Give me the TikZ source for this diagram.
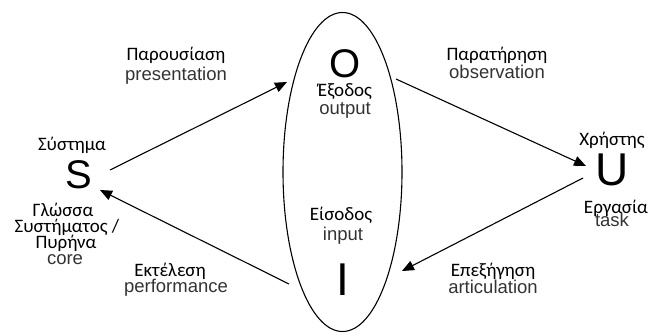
\documentclass[tikz,border=0pt]{standalone}
\usepackage{fontspec}
\setmainfont{Carlito}
\newfontfamily\engfont{Liberation Sans}
\usetikzlibrary{arrows.meta}
\definecolor{enggray}{HTML}{333333}
\tikzset{
  gr/.style={font=\fontsize{19}{19}\selectfont, inner sep=0pt, anchor=base, text=black},
  en/.style={font=\engfont\fontsize{18.5}{18.5}\selectfont, inner sep=0pt, anchor=base, text=enggray},
  big/.style={font=\engfont\fontsize{40}{40}\selectfont, inner sep=0pt, anchor=base},
  bigger/.style={font=\engfont\fontsize{46}{46}\selectfont, inner sep=0pt, anchor=base},
  arr/.style={line width=1.1pt, -{Triangle[length=12pt,width=10pt]}},
}
\begin{document}
\begin{tikzpicture}[x=1pt,y=-1pt]
\useasboundingbox (0,0) rectangle (652,333);
% central ellipse
\draw[line width=1.1pt] (342.5,172) ellipse [x radius=59.5, y radius=159.5];
% big letters
\node[big] (S) at (79,188) {S};
\node[big] (O) at (345,77) {O};
\node[bigger] (U) at (612,185) {U};
\node[bigger] (I) at (343,295) {I};
% labels
\node[gr] (pres1) at (176,60) {Παρουσίαση};
\node[en] (pres2) at (176,80) {presentation};
\node[gr] (obs1) at (497,60) {Παρατήρηση};
\node[en] (obs2) at (497,78) {observation};
\node[gr] (out1) at (345,96) {Έξοδος};
\node[en] (out2) at (345,114) {output};
\node[gr] (in1) at (341,220) {Είσοδος};
\node[en] (in2) at (343,240) {input};
\node[gr] (sys1) at (72,150) {Σύστημα};
\node[gr] (core1) at (63,216) {Γλώσσα};
\node[gr] (core2) at (67,232) {Συστήματος /};
\node[gr] (core3) at (66,248) {Πυρήνα};
\node[en] (core4) at (65,264) {core};
\node[gr] (perf1) at (170,276) {Εκτέλεση};
\node[en] (perf2) at (176,292) {performance};
\node[gr] (art1) at (493,276) {Επεξήγηση};
\node[en] (art2) at (493,293) {articulation};
\node[gr] (usr1) at (612,145) {Χρήστης};
\node[gr] (task1) at (616,213) {Εργασία};
\node[en] (task2) at (612,226) {task};
% arrow ends
\coordinate (a1s) at (110,170);
\coordinate (a1e) at (287,82);
\coordinate (a2s) at (396,79);
\coordinate (a2e) at (586,166);
\coordinate (a3s) at (583,178);
\coordinate (a3e) at (402,271);
\coordinate (a4s) at (289,284);
\coordinate (a4e) at (100,190);
\draw[arr] (a1s) -- (a1e);
\draw[arr] (a2s) -- (a2e);
\draw[arr] (a3s) -- (a3e);
\draw[arr] (a4s) -- (a4e);
\end{tikzpicture}
\end{document}
